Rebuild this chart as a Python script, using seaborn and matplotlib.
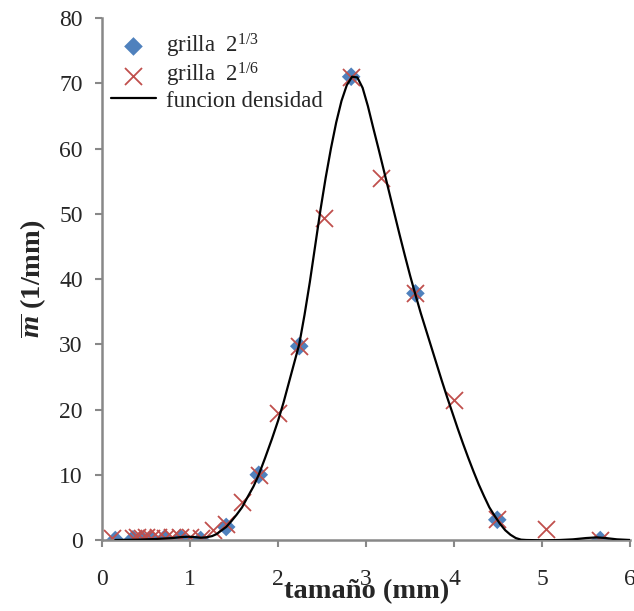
import numpy as np
import pandas as pd
import matplotlib.pyplot as plt
import seaborn as sns

# grilla 2^(1/3)
x_13 = [0.15, 0.35, 0.45, 0.56, 0.71, 0.89, 1.12, 1.41, 1.78, 2.24, 2.83, 3.56, 4.49, 5.66]
m_13 = [0.0, 0.1, 0.1, 0.1, 0.2, 0.3, 0.0, 2.0, 10.0, 29.7, 71.0, 37.8, 3.1, 0.0]

# grilla 2^(1/6)
x_16 = [0.11, 0.35, 0.40, 0.45, 0.50, 0.56, 0.63, 0.71, 0.79, 0.89, 1.00, 1.12, 1.26,
        1.41, 1.59, 1.78, 2.00, 2.24, 2.52, 2.83, 3.17, 3.56, 4.00, 4.49, 5.04, 5.66]
m_16 = [0.3, 0.3, 0.4, 0.3, 0.4, 0.3, 0.4, 0.3, 0.4, 0.5, 0.4, 0.3, 1.5,
        2.5, 5.8, 10.0, 19.5, 29.8, 49.3, 71.0, 55.5, 37.8, 21.5, 3.2, 1.7, 0.0]

# funcion densidad
x_fd = [0.15, 0.40, 0.60, 0.80, 0.90, 0.98, 1.05, 1.12, 1.18, 1.25, 1.30, 1.35, 1.41,
        1.47, 1.53, 1.59, 1.65, 1.72, 1.78, 1.85, 1.93, 2.00, 2.06, 2.12, 2.18, 2.24,
        2.30, 2.36, 2.42, 2.48, 2.54, 2.60, 2.66, 2.72, 2.78, 2.84, 2.90, 2.96, 3.02,
        3.08, 3.14, 3.20, 3.26, 3.32, 3.38, 3.44, 3.50, 3.56, 3.62, 3.68, 3.74, 3.80,
        3.86, 3.92, 3.98, 4.04, 4.10, 4.16, 4.22, 4.28, 4.34, 4.40, 4.46, 4.52, 4.58,
        4.64, 4.70, 4.76, 4.82, 5.00, 5.20, 5.35, 5.50, 5.62, 5.72, 5.85, 6.00]
m_fd = [0.0, 0.05, 0.15, 0.3, 0.45, 0.5, 0.45, 0.35, 0.4, 0.6, 0.9, 1.4, 2.0,
        2.9, 3.9, 5.0, 6.5, 8.2, 10.0, 12.5, 15.5, 18.3, 21.0, 24.0, 27.0, 30.0,
        34.5, 39.5, 45.0, 50.5, 55.5, 60.0, 64.0, 67.3, 69.7, 71.0, 70.9, 69.3, 66.5,
        63.2, 60.0, 56.7, 53.4, 50.1, 46.8, 43.6, 40.5, 37.6, 34.8, 32.2, 29.6, 27.0,
        24.4, 21.9, 19.5, 17.1, 14.8, 12.6, 10.5, 8.5, 6.7, 5.0, 3.7, 2.5, 1.5,
        0.8, 0.3, 0.05, 0.0, -0.05, 0.0, 0.1, 0.3, 0.4, 0.3, 0.1, 0.0]

sns.set_style("ticks")
plt.rcParams['font.family'] = ['Liberation Serif', 'DejaVu Serif']
plt.rcParams['mathtext.fontset'] = 'custom'
plt.rcParams['mathtext.rm'] = 'Liberation Serif'
plt.rcParams['mathtext.it'] = 'Liberation Serif:italic'
plt.rcParams['mathtext.bf'] = 'Liberation Serif:bold'
plt.rcParams['mathtext.bfit'] = 'Liberation Serif:italic:bold'

fig = plt.figure(figsize=(6.34, 6.11), dpi=100)
ax = fig.add_axes([0.161, 0.1162, 0.833, 0.8543])

blue = '#4F81BD'
red = '#C0504D'

sns.lineplot(x=x_fd, y=m_fd, ax=ax, color='black', lw=1.6, label='funcion densidad',
             sort=False, zorder=3)
sns.scatterplot(x=x_13, y=m_13, ax=ax, marker='D', s=90, color=blue, edgecolor='none',
                label=r'grilla  $\mathit{2}^{\mathit{1/3}}$', zorder=2)
sns.scatterplot(x=x_16, y=m_16, ax=ax, marker='x', s=150, color=red, linewidth=1.3,
                label=r'grilla  $\mathit{2}^{\mathit{1/6}}$', zorder=2)

ax.set_xlim(0, 6)
ax.set_ylim(0, 80)
ax.set_xticks(range(0, 7))
ax.set_yticks(range(0, 81, 10))
ax.tick_params(labelsize=17, color='#888888', width=1.5, length=5)
ax.tick_params(axis='x', pad=16)
ax.tick_params(axis='y', pad=9)

for s in ['top', 'right']:
    ax.spines[s].set_visible(False)
for s in ['left', 'bottom']:
    ax.spines[s].set_color('#888888')
    ax.spines[s].set_linewidth(1.8)

ax.set_xlabel('tamaño (mm)', fontsize=20.5, fontweight='bold', labelpad=-8)
ax.set_ylabel(r'$\overline{\mathbfit{m}}$ (1/mm)', fontsize=20.5, fontweight='bold', labelpad=8)

h, l = ax.get_legend_handles_labels()
order = [1, 2, 0]
ax.legend([h[i] for i in order], [l[i] for i in order], loc='upper left',
          bbox_to_anchor=(-0.01, 1.0), frameon=False, fontsize=16.5,
          handlelength=2.0, handletextpad=0.4, labelspacing=0.05, borderaxespad=0.2)

plt.savefig('out.png', dpi=100)
